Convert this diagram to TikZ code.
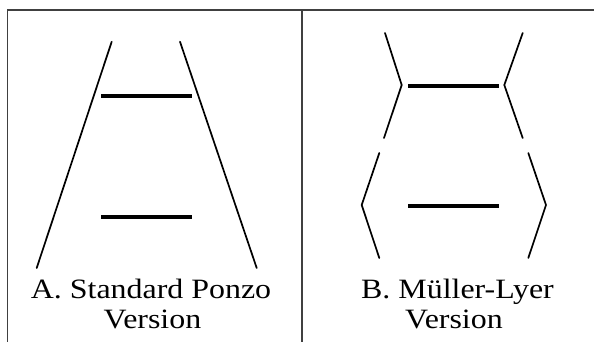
\documentclass[tikz,border=0pt]{standalone}
\usepackage{fontspec}
\setmainfont{Liberation Serif}
\begin{document}
\begin{tikzpicture}[x=1pt,y=-1pt,
  frame/.style={line width=1.3pt,color=black!75},
  side/.style={line width=1.7pt,line cap=round,line join=miter},
  bar/.style={line width=3.2pt},
  caption/.style={inner sep=0pt,anchor=base,font=\fontsize{28}{30}\selectfont}]
\useasboundingbox (0,0) rectangle (594,342);
\fill[white] (0,0) rectangle (594,342);
% frame
\coordinate (fbl) at (7.5,342);
\coordinate (ftl) at (7.5,10);
\coordinate (ftr) at (594,10);
\coordinate (mt) at (302,10);
\coordinate (mb) at (302,342);
\draw[frame] (fbl) -- (ftl) -- (ftr);
\draw[frame] (mt) -- (mb);
% Panel A
\coordinate (a1) at (111.7,41.7);
\coordinate (a2) at (36.7,268);
\coordinate (a3) at (180,41.7);
\coordinate (a4) at (256.7,268);
\draw[side] (a1) -- (a2);
\draw[side] (a3) -- (a4);
\coordinate (ab1) at (101,96);
\coordinate (ab2) at (192,96);
\coordinate (ab3) at (101,217);
\coordinate (ab4) at (192,217);
\draw[bar] (ab1) -- (ab2);
\draw[bar] (ab3) -- (ab4);
\node[caption] (capA1) at (151,298) {\scalebox{1.14}[1]{A. Standard Ponzo}};
\node[caption] (capA2) at (152.5,328) {\scalebox{1.14}[1]{Version}};
% Panel B
\coordinate (b1) at (385,33);
\coordinate (b2) at (401.7,85);
\coordinate (b3) at (384,138);
\coordinate (b4) at (522.7,33);
\coordinate (b5) at (504.3,85);
\coordinate (b6) at (522.7,138);
\draw[side] (b1) -- (b2) -- (b3);
\draw[side] (b4) -- (b5) -- (b6);
\coordinate (c1) at (379.3,153);
\coordinate (c2) at (361.7,205);
\coordinate (c3) at (379.3,258);
\coordinate (c4) at (528.3,153);
\coordinate (c5) at (546,205);
\coordinate (c6) at (528.3,258);
\draw[side] (c1) -- (c2) -- (c3);
\draw[side] (c4) -- (c5) -- (c6);
\coordinate (bb1) at (408,86);
\coordinate (bb2) at (499,86);
\coordinate (bb3) at (408,206);
\coordinate (bb4) at (499,206);
\draw[bar] (bb1) -- (bb2);
\draw[bar] (bb3) -- (bb4);
\node[caption] (capB1) at (457.5,298) {\scalebox{1.14}[1]{B. Müller-Lyer}};
\node[caption] (capB2) at (454,328) {\scalebox{1.14}[1]{Version}};
\end{tikzpicture}
\end{document}
